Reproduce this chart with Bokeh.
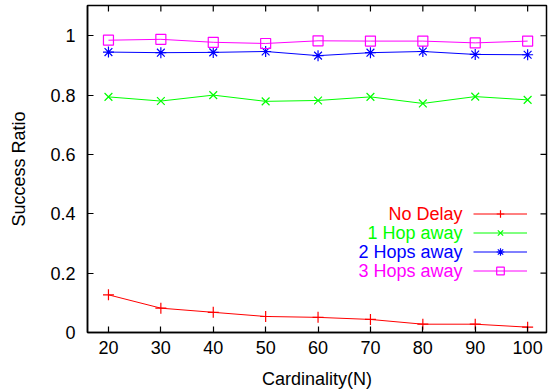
import math
from bokeh.plotting import figure
from bokeh.models import FixedTicker, Range1d, Label, Legend, LegendItem
from bokeh.embed import file_html
from bokeh.resources import INLINE

cardinality = [20, 30, 40, 50, 60, 70, 80, 90, 100]
no_delay = [0.127, 0.082, 0.068, 0.054, 0.051, 0.044, 0.028, 0.028, 0.018]
hop1 = [0.794, 0.780, 0.800, 0.779, 0.782, 0.794, 0.772, 0.795, 0.784]
hop2 = [0.945, 0.943, 0.944, 0.947, 0.933, 0.943, 0.947, 0.937, 0.936]
hop3 = [0.985, 0.988, 0.978, 0.974, 0.983, 0.982, 0.982, 0.976, 0.982]
series_names = ["No Delay", "1 Hop away", "2 Hops away", "3 Hops away"]
colors = ["#ff0000", "#00ff00", "#0000ff", "#ff00ff"]
markers = ["cross", "x", "asterisk", "square"]
x_ticks = [20, 30, 40, 50, 60, 70, 80, 90, 100]
y_ticks = [0, 0.2, 0.4, 0.6, 0.8, 1.0]
y_tick_labels = ["0", "0.2", "0.4", "0.6", "0.8", "1"]
X_MIN, X_MAX = 16, 103.6
Y_MIN, Y_MAX = 0, 1.102

FONT = "Liberation Sans"
FS = "18px"

p = figure(width=550, height=391, output_backend="svg", toolbar_location=None,
           x_range=Range1d(X_MIN, X_MAX), y_range=Range1d(Y_MIN, Y_MAX),
           min_border_left=87, min_border_right=4, min_border_top=5, min_border_bottom=0)
p.grid.visible = False
p.outline_line_color = "black"
p.outline_line_width = 1.5
p.background_fill_color = "white"
p.border_fill_color = "white"

for ax in (p.xaxis[0], p.yaxis[0]):
    ax.axis_line_color = "black"
    ax.axis_line_width = 1.5
    ax.major_tick_in = 6
    ax.major_tick_out = 0
    ax.minor_tick_line_color = None
    ax.major_tick_line_color = "black"
    ax.major_tick_line_width = 1.2
    ax.major_label_text_font = FONT
    ax.major_label_text_font_size = FS
    ax.major_label_text_color = "black"
    ax.axis_label_text_font = FONT
    ax.axis_label_text_font_size = FS
    ax.axis_label_text_font_style = "normal"
    ax.axis_label_text_color = "black"

p.xaxis.ticker = FixedTicker(ticks=x_ticks)
p.yaxis.ticker = FixedTicker(ticks=y_ticks)
p.yaxis.major_label_overrides = {v: s for v, s in zip(y_ticks, y_tick_labels)}
p.xaxis.axis_label = "Cardinality(N)"
p.yaxis.axis_label = "Success Ratio"
p.xaxis.major_label_standoff = 8
p.yaxis.major_label_standoff = 12
p.xaxis.axis_label_standoff = 12
p.yaxis.axis_label_standoff = 18

# mirrored inward ticks on top and right edges
p.scatter(x_ticks, [Y_MAX] * len(x_ticks), marker="dash", size=12, angle=math.pi / 2,
          line_color="black", line_width=1.2)
p.scatter([X_MAX] * len(y_ticks), y_ticks, marker="dash", size=12,
          line_color="black", line_width=1.2)

data = [no_delay, hop1, hop2, hop3]
items = []
for name, ys, c, m in zip(series_names, data, colors, markers):
    ln = p.line(cardinality, ys, line_color=c, line_width=1)
    sc = p.scatter(cardinality, ys, marker=m, size=11 if m != "square" else 10,
                   line_color=c, fill_color=None, line_width=1.2)
    items.append(LegendItem(label=" ", renderers=[ln, sc]))

LEG_Y = 52
row_h = 19
leg = Legend(items=items, location=(386, LEG_Y), orientation="vertical",
             glyph_width=54, glyph_height=row_h, label_width=0, label_height=row_h,
             label_standoff=0, spacing=0, padding=0, margin=0,
             border_line_color=None, background_fill_alpha=0,
             label_text_font_size="1px")
p.add_layout(leg)

for i, (name, c) in enumerate(zip(series_names, colors)):
    yy = LEG_Y + (3 - i) * row_h + row_h / 2
    p.add_layout(Label(x=375, y=yy, x_units="screen", y_units="screen", text=name,
                       text_align="right", text_baseline="middle", text_color=c,
                       text_font=FONT, text_font_size=FS))

open("out.html", "w").write(file_html(p, INLINE))
